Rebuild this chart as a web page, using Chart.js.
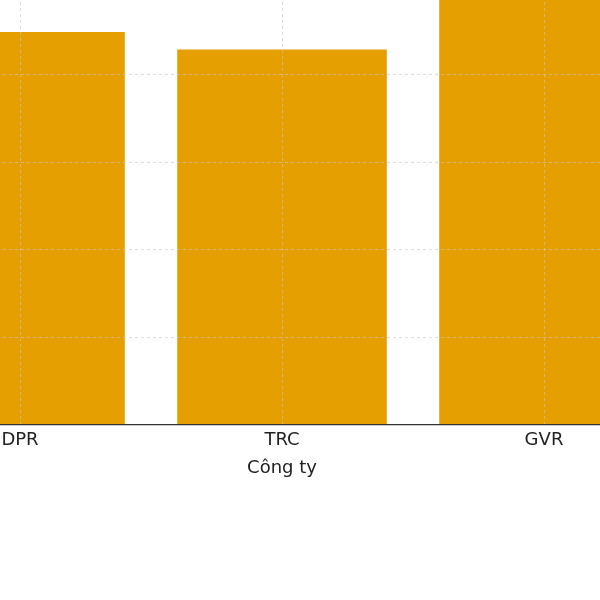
<!DOCTYPE html>
<html>
<head>
<meta charset="utf-8">
<script src="https://cdn.jsdelivr.net/npm/chart.js@4/dist/chart.umd.min.js"></script>
<style>
  html, body { margin: 0; padding: 0; width: 600px; height: 600px; overflow: hidden; background: #fff; }
  #wrap { position: absolute; left: -111px; top: -100px; }
</style>
</head>
<body>
<div id="wrap"><canvas id="myChart" width="786" height="583"></canvas></div>
<script>
// companies and values (y labels are cropped in the reference, values estimated)
const companies = ['DPR', 'TRC', 'GVR'];
const values = [44.9, 42.9, 52];
const yTicks = [0, 10, 20, 30, 40, 50, 60];

const gridColor = 'rgba(200,200,200,0.6)';

const ctx = document.getElementById('myChart').getContext('2d');
const myChart = new Chart(ctx, {
    type: 'bar',
    data: {
        labels: companies,
        datasets: [{
            data: values,
            backgroundColor: '#E69F00',
            borderWidth: 0,
            barPercentage: 0.8,
            categoryPercentage: 1.0
        }]
    },
    options: {
        responsive: false,
        animation: false,
        layout: { padding: 0 },
        plugins: {
            legend: { display: false },
            tooltip: { enabled: false }
        },
        scales: {
            x: {
                offset: true,
                grid: {
                    z: 1,
                    offset: false,
                    color: gridColor,
                    lineWidth: 1,
                    drawTicks: false
                },
                border: { display: true, color: '#333', width: 1.3, dash: [3, 3], z: 2 },
                ticks: {
                    color: '#222',
                    padding: 6,
                    font: { family: 'DejaVu Sans', size: 18, lineHeight: 1.1 }
                },
                title: {
                    display: true,
                    text: 'Công ty',
                    color: '#222',
                    padding: { top: 1, bottom: 4 },
                    font: { family: 'DejaVu Sans', size: 18 }
                }
            },
            y: {
                min: 0,
                max: 60,
                afterBuildTicks: axis => { axis.ticks = yTicks.map(v => ({ value: v })); },
                grid: {
                    z: 1,
                    color: gridColor,
                    lineWidth: 1,
                    drawTicks: false
                },
                border: { display: false, dash: [3, 3] },
                ticks: { display: false }
            }
        }
    }
});
</script>
</body>
</html>
